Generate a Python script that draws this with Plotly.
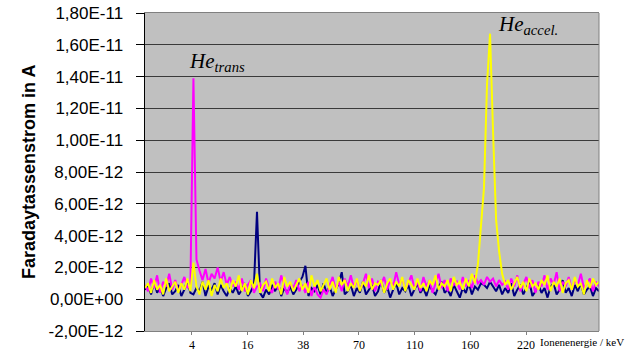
import plotly.graph_objects as go

# Channel index (x) and currents in units of 1E-12 A
channels = list(range(151))

navy_vals = [
    0.6, 0.9, 0.3, 1.1, 0.4, 0.8, 0.2, 0.7, 1.0, 0.3,
    0.5, 0.9, 0.2, 0.6, 1.2, 0.4, 0.3, 0.7, 0.5, 1.1,
    0.2, 0.8, 0.6, 1.0, 0.3, 0.9, 0.5, 0.2, 0.7, 0.4,
    0.8, 0.3, 0.6, 1.0, 0.2, 0.5, 0.9, 5.5, 0.4, 0.1,
    0.6, 0.3, 0.9, 0.5, 1.0, 0.2, 0.7, 0.4, 0.8, 0.3,
    0.6, 1.1, 1.4, 2.1, 0.2, 0.7, 0.5, 0.9, 0.3, 1.0,
    0.4, 0.8, 0.2, 0.6, 1.0, 1.7, 0.3, 0.5, 0.9, 0.2,
    0.7, 0.4, 1.1, 0.3, 0.6, 0.9, 0.2, 0.5, 1.2, 0.4,
    0.8, 0.1, 0.6, 1.0, 0.3, 0.7, 0.5, 0.9, 0.2, 0.6,
    1.0, 0.4, 0.7, 0.2, 0.9, 0.5, 0.3, 0.8, 1.1, 0.4,
    0.6, 0.2, 0.9, 0.5, 0.1, 0.7, 0.4, 1.0, 0.3, 0.8,
    0.6, 1.0, 0.9, 0.7, 1.1, 0.8, 0.5, 0.9, 0.3, 0.7,
    0.4, 1.0, 0.2, 0.6, 0.9, 0.3, 0.7, 1.1, 0.2, 0.5,
    0.9, 0.4, 0.7, 0.1, 0.8, 1.0, 0.3, 0.6, 1.2, 0.4,
    0.7, 0.2, 0.9, 0.5, 1.0, 0.3, 0.6, 0.8, 0.2, 0.7, 0.5,
]

magenta_vals = [
    0.9, 0.5, 1.3, 0.7, 1.5, 0.4, 1.1, 0.8, 1.6, 0.6,
    1.2, 0.5, 0.9, 1.4, 0.7, 0.9, 13.9, 2.5, 1.8, 1.2,
    1.9, 1.0, 1.6, 1.3, 2.0, 1.1, 1.7, 0.9, 1.4, 0.8,
    1.1, 0.6, 1.3, 0.5, 0.9, 1.2, 0.4, 0.8, 1.0, 0.5,
    1.3, 0.7, 0.4, 1.1, 0.6, 1.5, 0.8, 0.3, 1.0, 0.7,
    1.2, 0.5, 0.9, 0.4, 1.1, 0.2, 0.8, 0.3, 0.1, 0.6,
    0.3, 0.9, 1.4, 0.6, 1.1, 0.5, 1.3, 0.8, 1.5, 0.7,
    1.2, 0.6, 1.0, 1.6, 0.7, 1.3, 0.5, 1.1, 0.9, 1.4,
    0.6, 1.2, 0.8, 1.7, 0.9, 1.3, 0.6, 1.0, 1.5, 0.7,
    1.1, 0.5, 1.4, 0.8, 1.2, 0.4, 1.0, 1.6, 0.7, 1.2,
    0.5, 1.3, 0.9, 1.1, 0.6, 1.4, 0.8, 1.2, 0.7, 1.5,
    1.0, 1.2, 0.9, 1.4, 1.1, 1.3, 0.8, 1.2, 0.9, 1.1,
    0.6, 1.3, 0.8, 1.5, 0.5, 1.0, 1.4, 0.7, 1.2, 0.4,
    1.1, 0.8, 1.5, 0.6, 1.3, 0.9, 1.7, 0.5, 1.1, 0.8,
    1.4, 0.6, 1.2, 0.9, 1.6, 0.7, 1.0, 1.3, 0.5, 1.1, 0.8,
]

yellow_vals = [
    0.7, 1.0, 0.4, 1.2, 0.6, 0.9, 0.3, 1.3, 0.5, 0.8,
    1.1, 0.4, 1.0, 0.6, 1.3, 0.5, 2.3, 0.8, 0.3, 1.1,
    0.6, 1.2, 0.2, 0.9, 0.5, 1.3, 0.7, 1.0, 0.4, 1.2,
    0.8, 1.5, 0.5, 1.0, 0.3, 1.2, 0.7, 1.6, 0.4, 0.9,
    1.1, 0.5, 1.3, 0.7, 1.0, 0.3, 1.4, 0.8, 1.1, 0.5,
    0.9, 1.3, 0.6, 1.0, 0.4, 1.5, 0.8, 1.2, 0.5, 0.9,
    1.3, 0.6, 1.1, 0.4, 1.4, 0.9, 1.2, 0.5, 1.0, 0.7,
    1.3, 0.5, 1.1, 0.8, 1.5, 0.6, 1.0, 0.9, 1.2, 0.4,
    1.0, 1.3, 0.6, 1.1, 0.8, 1.4, 0.5, 1.2, 0.9, 0.6,
    1.3, 0.7, 1.0, 0.5, 1.2, 0.9, 1.5, 0.6, 1.0, 0.8,
    1.2, 0.5, 1.4, 0.9, 1.1, 0.6, 1.3, 0.8, 1.6, 1.0,
    2.2, 4.5, 7.0, 13.5, 16.7, 10.5, 5.0, 3.0, 1.6, 0.9,
    1.2, 0.6, 1.0, 1.4, 0.7, 1.1, 0.5, 1.3, 0.8, 1.0,
    0.6, 1.2, 0.9, 1.5, 0.5, 1.1, 0.8, 1.3, 0.4, 1.0,
    1.2, 0.6, 1.4, 0.8, 1.0, 0.3, 1.2, 0.7, 1.3, 0.9, 1.1,
]

# x tick labels (ion energy, keV) and their channel positions
energy_labels = ["4", "16", "38", "70", "110", "160", "220"]
energy_channels = [15.5, 33.9, 52.3, 70.7, 89.1, 107.5, 125.9]

# y tick labels (A), values in units of 1E-12
y_tick_vals = [-2, 0, 2, 4, 6, 8, 10, 12, 14, 16, 18]
y_tick_text = ["-2,00E-12", "0,00E+00", "2,00E-12", "4,00E-12", "6,00E-12",
               "8,00E-12", "1,00E-11", "1,20E-11", "1,40E-11", "1,60E-11", "1,80E-11"]

fig = go.Figure()
for vals, col in [(navy_vals, "#000080"), (magenta_vals, "#FF00FF"), (yellow_vals, "#FFFF00")]:
    fig.add_trace(go.Scatter(x=channels, y=vals, mode="lines",
                             line=dict(color=col, width=2), showlegend=False))

fig.update_layout(
    width=630, height=353,
    margin=dict(l=145, r=31, t=13, b=22, autoexpand=False),
    paper_bgcolor="white",
    plot_bgcolor="#C0C0C0",
    font=dict(family="Liberation Sans, Arial", color="black"),
    xaxis=dict(
        range=[0, 150], showgrid=False, zeroline=False, automargin=False,
        tickmode="array", tickvals=energy_channels, ticktext=energy_labels,
        ticks="outside", ticklen=3, tickcolor="#808080",
        tickfont=dict(family="Liberation Serif, Times New Roman", size=12),
        showline=True, linecolor="#808080", linewidth=1, mirror=True,
    ),
    yaxis=dict(
        range=[-2, 18], zeroline=False, automargin=False,
        tickmode="array", tickvals=y_tick_vals,
        ticktext=[t + "\u00a0\u00a0" for t in y_tick_text],
        showgrid=True, gridcolor="#3a3a3a", gridwidth=1,
        ticks="outside", ticklen=8, tickcolor="black",
        tickfont=dict(family="Liberation Sans, Arial", size=17),
        showline=True, linecolor="black", linewidth=1,
    ),
    annotations=[
        dict(text="<b>Faradaytassenstrom in A</b>", textangle=-90,
             xref="paper", yref="paper", x=(29 - 145) / 454, y=0.5,
             xanchor="center", yanchor="middle", showarrow=False,
             font=dict(family="Liberation Sans, Arial", size=18)),
        dict(text="<i>He<sub>trans</sub></i>", xref="x", yref="y",
             x=14.0, y=14.0, xanchor="left", yanchor="bottom", showarrow=False,
             font=dict(family="Liberation Serif, Times New Roman", size=21)),
        dict(text="<i>He<sub>accel.</sub></i>", xref="x", yref="y",
             x=116.0, y=16.3, xanchor="left", yanchor="bottom", showarrow=False,
             font=dict(family="Liberation Serif, Times New Roman", size=21)),
        dict(text="Ionenenergie / keV", xref="paper", yref="paper",
             x=(582 - 145) / 454, y=-11 / 318, xanchor="center", yanchor="middle",
             showarrow=False,
             font=dict(family="Liberation Serif, Times New Roman", size=11)),
    ],
)

fig.add_shape(type="line", xref="paper", yref="paper", x0=1, x1=1, y0=0, y1=1,
              line=dict(color="#808080", width=1))

fig.write_html("out.html", config={"displayModeBar": False},
               post_script="document.body.style.margin='0';document.body.style.overflow='hidden';")
